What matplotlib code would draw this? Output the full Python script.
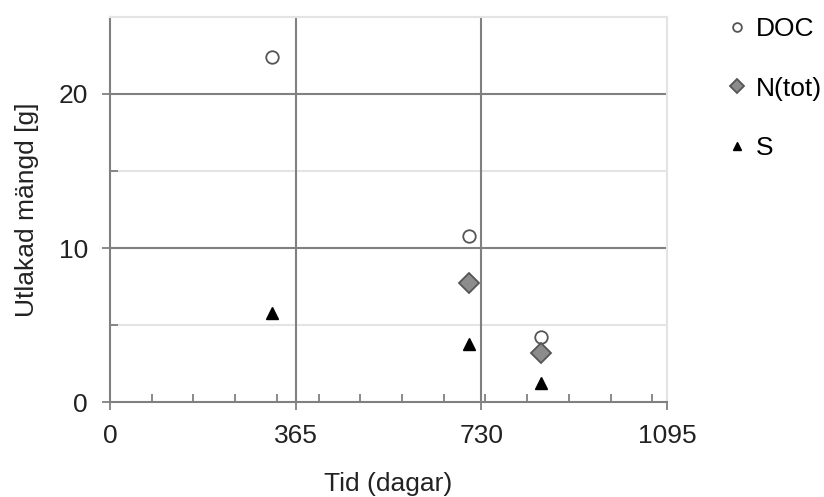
import matplotlib.pyplot as plt
from matplotlib.ticker import MultipleLocator, FixedLocator

plt.rcParams['font.family'] = ['Liberation Sans', 'DejaVu Sans']

# data
doc_x = [318, 706, 848]
doc_y = [22.4, 10.8, 4.2]
ntot_x = [706, 848]
ntot_y = [7.7, 3.2]
s_x = [318, 706, 848]
s_y = [5.8, 3.8, 1.25]

x_ticks = [0, 365, 730, 1095]
y_ticks = [0, 10, 20]

dark = '#808080'
light = '#e4e4e4'
fs = 19

fig = plt.figure(figsize=(8.24, 4.97), dpi=100)
ax = fig.add_axes([0.1335, 0.191, 0.676, 0.775])

ax.set_xlim(0, 1095)
ax.set_ylim(0, 25)

# grid lines
for yv in [5, 15]:
    ax.axhline(yv, color=light, lw=1.5, zorder=0)
for yv in [10, 20]:
    ax.axhline(yv, color=dark, lw=1.5, zorder=0)
for xv in [365, 730]:
    ax.axvline(xv, color=dark, lw=1.5, zorder=0)

ax.plot(doc_x, doc_y, 'o', ms=9, mfc='white', mec='#555555', mew=1.3, ls='none', label='DOC', zorder=3)
ax.plot(ntot_x, ntot_y, 'D', ms=10, mfc='#8c8c8c', mec='#555555', mew=1.3, ls='none', label='N(tot)', zorder=3)
ax.plot(s_x, s_y, '^', ms=8, color='black', ls='none', label='S', zorder=3)

ax.xaxis.set_major_locator(FixedLocator(x_ticks))
ax.xaxis.set_minor_locator(MultipleLocator(82))
ax.yaxis.set_major_locator(FixedLocator(y_ticks))
ax.yaxis.set_minor_locator(FixedLocator([5, 15, 25]))

ax.tick_params(which='major', direction='out', length=6, width=1.3, color=dark,
               labelsize=fs, labelcolor='#222222', pad=10)
ax.tick_params(which='minor', direction='in', length=6, width=1.3, color=dark)
ax.tick_params(axis='x', which='minor', top=False)

for side in ['left', 'bottom']:
    ax.spines[side].set_color(dark)
    ax.spines[side].set_linewidth(1.5)
for side in ['top', 'right']:
    ax.spines[side].set_color(light)
    ax.spines[side].set_linewidth(1.5)

ax.set_xlabel('Tid (dagar)', fontsize=fs, color='#222222', labelpad=17)
ax.set_ylabel('Utlakad mängd [g]', fontsize=fs, color='#222222', labelpad=14)

ax.legend(loc='upper left', bbox_to_anchor=(1.088, 1.027), borderaxespad=0, frameon=False,
          fontsize=fs, handletextpad=0.3, labelspacing=1.35, handlelength=0.8, markerscale=0.7)

fig.savefig('out.png', dpi=100)
